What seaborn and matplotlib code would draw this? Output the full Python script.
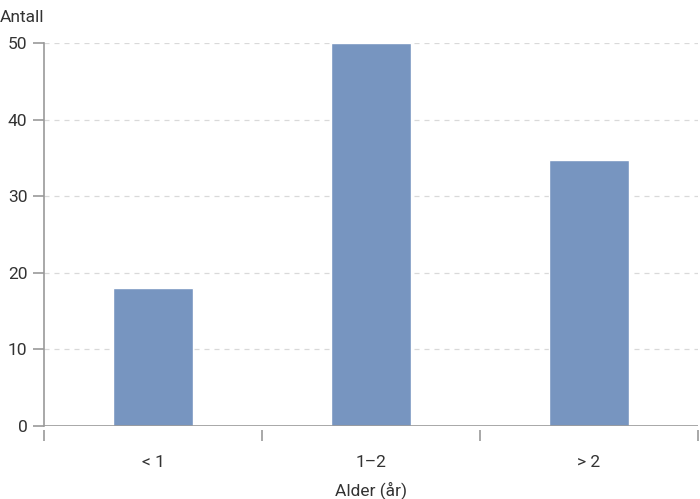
import matplotlib
matplotlib.use("Agg")
import matplotlib.pyplot as plt
import seaborn as sns
import pandas as pd

# values
categories = ["< 1", "1–2", "> 2"]
counts = [18, 50, 34.7]
yticks = [0, 10, 20, 30, 40, 50]

sns.set_style("white")
plt.rcParams['font.family'] = ['Roboto', 'DejaVu Sans']

df = pd.DataFrame({"alder": categories, "antall": counts})

fig = plt.figure(figsize=(7, 4.99), dpi=100)
ax = fig.add_axes([44 / 700, 1 - 426 / 499, 654 / 700, 383 / 499])

sns.barplot(data=df, x="alder", y="antall", color="#7795c0", width=0.37,
            saturation=1, ax=ax, zorder=3)

ax.set_xlim(-0.5, 2.5)
ax.set_ylim(0, 50)
ax.set_yticks(yticks)
ax.yaxis.grid(True, color="#d9d9d9", linestyle=(0, (4, 4)), linewidth=0.9, zorder=0)
ax.axhline(0, color="#999999", linewidth=1.2, zorder=4)

for s in ["top", "right"]:
    ax.spines[s].set_visible(False)
ax.spines["left"].set_color("#999999")
ax.spines["left"].set_linewidth(1.2)
ax.spines["bottom"].set_visible(False)
ax.spines["bottom"].set_position(("outward", 3))

# boundary ticks between categories, labels centred
ax.set_xticks([-0.5, 0.5, 1.5, 2.5])
ax.set_xticklabels([])
ax.set_xticks([0, 1, 2], minor=True)
ax.set_xticklabels(categories, minor=True)
ax.tick_params(axis="x", which="major", bottom=True, length=8, width=1.2,
               color="#999999", direction="out")
ax.tick_params(axis="x", which="minor", bottom=False, pad=16, labelsize=12.5,
               labelcolor="#333333")
ax.tick_params(axis="y", left=True, length=8, width=1.2, color="#999999",
               labelsize=12.5, labelcolor="#333333", pad=4)

ax.set_xlabel("")
ax.set_ylabel("")
fig.text(0.5 * (44 + 698) / 700, 1 - 490 / 499, "Alder (år)", fontsize=12.5,
         color="#333333", va="center", ha="center")
fig.text(0.0, 1 - 18 / 499, "Antall", fontsize=12.5, color="#333333",
         va="center", ha="left")

fig.savefig("out.png", dpi=100)
